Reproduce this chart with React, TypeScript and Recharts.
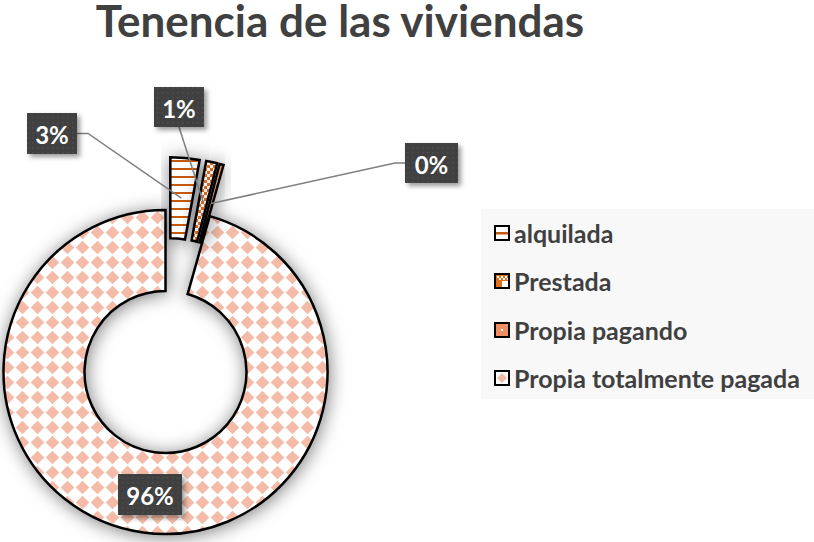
import React from 'react';
import { PieChart, Pie, Cell, Legend } from 'recharts';

// ---------- data ----------
const categories = ['alquilada', 'Prestada', 'Propia pagando', 'Propia totalmente pagada'];
const shares = [2.9, 1.1, 0.4, 95.6];
const chartTitle = 'Tenencia de las viviendas';

const data = categories.map((name, i) => ({ name, value: shares[i] }));

// ---------- layout / style ----------
const W = 814;
const H = 542;
const CX = 165.5;
const CY = 372;
const R_OUT = 162;
const R_IN = 81;
const EXPLODE = [53, 53, 53, 0];
const FILLS = ['url(#pAlq)', 'url(#pPre)', 'url(#pPag)', 'url(#pTot)'];
const FONT = 'Lato, "Open Sans", sans-serif';
const TEXT = '#404040';

type Box = { x: number; y: number; w: number; h: number; anchor: 'right' | 'bottom' | 'left' | null; elbow: number };
const LABEL_BOXES: Box[] = [
  { x: 27, y: 113, w: 50, h: 41, anchor: 'right', elbow: 11 },
  { x: 154, y: 87, w: 50, h: 40, anchor: 'bottom', elbow: 0 },
  { x: 405, y: 143, w: 53, h: 40, anchor: 'left', elbow: 10 },
  { x: 118, y: 474, w: 64, h: 41, anchor: null, elbow: 0 },
];

const total = shares.reduce((a, b) => a + b, 0);
const offsets = shares.map((v, i) => {
  const cum = shares.slice(0, i).reduce((a, b) => a + b, 0);
  const mid = 90 - ((cum + v / 2) / total) * 360;
  const rad = (mid * Math.PI) / 180;
  return { dx: EXPLODE[i] * Math.cos(rad), dy: -EXPLODE[i] * Math.sin(rad) };
});

const RADIAN = Math.PI / 180;

const makeLabel = (k: number) => (props: any) => {
  const { cx, cy, midAngle, innerRadius, outerRadius, percent, index } = props;
  if (index !== k) return null;
  const b = LABEL_BOXES[k];
  const r = (innerRadius + outerRadius) / 2;
  const tx = cx + r * Math.cos(-midAngle * RADIAN);
  const ty = cy + r * Math.sin(-midAngle * RADIAN);
  let pts: number[][] = [];
  if (b.anchor === 'right') {
    pts = [[b.x + b.w, b.y + b.h / 2], [b.x + b.w + b.elbow, b.y + b.h / 2], [tx, ty]];
  } else if (b.anchor === 'left') {
    pts = [[b.x, b.y + b.h / 2], [b.x - b.elbow, b.y + b.h / 2], [tx, ty]];
  } else if (b.anchor === 'bottom') {
    pts = [[b.x + b.w / 2, b.y + b.h], [tx, ty]];
  }
  return (
    <g key={`lbl-${k}`}>
      {pts.length > 0 && (
        <polyline points={pts.map((p) => p.join(',')).join(' ')} fill="none" stroke="#7f7f7f" strokeWidth={1.5} />
      )}
      <rect x={b.x} y={b.y} width={b.w} height={b.h} fill="url(#pDark)" filter="url(#boxShadow)" />
      <text
        x={b.x + b.w / 2}
        y={b.y + b.h / 2 + 1}
        textAnchor="middle"
        dominantBaseline="central"
        fill="#ffffff"
        fontFamily={FONT}
        fontWeight={700}
        fontSize={24}
      >
        {`${Math.round(percent * 100)}%`}
      </text>
    </g>
  );
};

const LegendIcon = ({ i }: { i: number }) => {
  return (
    <svg width={16} height={16} style={{ display: 'block' }}>
      <rect x={1} y={1} width={14} height={14} fill="#fff" />
      {i === 0 && <rect x={1} y={7} width={14} height={2.5} fill="#C55A11" />}
      {i === 1 && (
        <g shapeRendering="crispEdges">
          <rect x={1} y={1} width={14} height={14} fill="#E07020" />
          <rect x={8} y={8} width={7} height={7} fill="#fff" />
          <rect x={3} y={3} width={2} height={2} fill="#fff" />
          <rect x={7} y={3} width={2} height={2} fill="#fff" />
          <rect x={11} y={3} width={2} height={2} fill="#fff" />
          <rect x={5} y={5} width={2} height={2} fill="#fff" />
          <rect x={9} y={5} width={2} height={2} fill="#fff" />
          <rect x={13} y={5} width={2} height={2} fill="#fff" />
        </g>
      )}
      {i === 2 && (
        <g>
          <rect x={1} y={1} width={14} height={14} fill="#EE8F63" />
          <rect x={7} y={7} width={2} height={2} fill="#fff" />
        </g>
      )}
      {i === 3 && <polygon points="8,3 13,8 8,13 3,8" fill="#F4BCA8" />}
      <rect x={1} y={1} width={14} height={14} fill="none" stroke="#000" strokeWidth={2} />
    </svg>
  );
};

const renderLegend = () => {
  return (
    <div style={{ width: 333, height: 190, background: '#f8f8f8', boxSizing: 'border-box' }}>
      {categories.map((name, i) => (
        <div
          key={`leg-${i}`}
          style={{ display: 'flex', alignItems: 'center', height: 48.3, paddingLeft: 13, marginTop: i === 0 ? -1 : 0 }}
        >
          <LegendIcon i={i} />
          <span
            style={{
              marginLeft: 4,
              fontFamily: FONT,
              fontWeight: 700,
              fontSize: 25,
              color: TEXT,
              whiteSpace: 'nowrap',
              lineHeight: '30px',
            }}
          >
            {name}
          </span>
        </div>
      ))}
    </div>
  );
};

const Defs = () => (
  <svg width={0} height={0} style={{ position: 'absolute' }}>
    <defs>
      <pattern id="pAlq" width={8} height={8} patternUnits="userSpaceOnUse">
        <rect width={8} height={8} fill="#fff" />
        <rect y={0} width={8} height={2} fill="#C55A11" shapeRendering="crispEdges" />
      </pattern>
      <pattern id="pPre" width={6} height={6} patternUnits="userSpaceOnUse">
        <rect width={6} height={6} fill="#fff" />
        <g shapeRendering="crispEdges" fill="#E07020">
          <rect x={0} y={0} width={3} height={3} />
          <rect x={3} y={3} width={3} height={3} />
        </g>
      </pattern>
      <pattern id="pPag" width={4} height={4} patternUnits="userSpaceOnUse">
        <rect width={4} height={4} fill="#EE8F63" />
        <rect x={1} y={1} width={1} height={1} fill="#fff" />
      </pattern>
      <pattern id="pTot" width={15} height={15} patternUnits="userSpaceOnUse">
        <rect width={15} height={15} fill="#fff" />
        <polygon points="7.5,0.7 14.3,7.5 7.5,14.3 0.7,7.5" fill="#F4BCA8" />
      </pattern>
      <pattern id="pDark" width={5} height={5} patternUnits="userSpaceOnUse">
        <rect width={5} height={5} fill="#404040" />
        <rect x={2} y={2} width={1.5} height={1.5} fill="#4e4e4e" />
      </pattern>
      <filter id="pieShadow" x="-30%" y="-30%" width="160%" height="160%">
        <feDropShadow dx={1} dy={2} stdDeviation={9} floodColor="#000" floodOpacity={0.5} />
      </filter>
      <filter id="boxShadow" x="-30%" y="-30%" width="160%" height="160%">
        <feDropShadow dx={3} dy={3} stdDeviation={2.5} floodColor="#000" floodOpacity={0.4} />
      </filter>
    </defs>
  </svg>
);

const order = [3, 0, 1, 2];

export default function App() {
  return (
    <div style={{ position: 'absolute', left: 0, top: 0, width: W, height: H, background: '#fff', overflow: 'hidden' }}>
      <Defs />
      <svg width={W} height={60} style={{ position: 'absolute', left: 0, top: 0, zIndex: 2 }}>
        <text
          x={340}
          y={37}
          textAnchor="middle"
          fontFamily={FONT}
          fontWeight={700}
          fontSize={44}
          fill={TEXT}
        >
          {chartTitle}
        </text>
      </svg>
      <PieChart width={W} height={H} margin={{ top: 0, right: 0, bottom: 0, left: 0 }}>
        {order.map((k) => (
          <Pie
            key={`pie-${k}`}
            data={data}
            dataKey="value"
            nameKey="name"
            cx={CX + offsets[k].dx}
            cy={CY + offsets[k].dy}
            innerRadius={R_IN}
            outerRadius={R_OUT}
            startAngle={90}
            endAngle={-270}
            isAnimationActive={false}
            legendType={k === 3 ? 'square' : 'none'}
            label={makeLabel(k)}
            labelLine={false}
          >
            {data.map((d, i) => (
              <Cell
                key={`c-${k}-${i}`}
                fill={i === k ? FILLS[i] : 'none'}
                stroke={i === k ? '#000' : 'none'}
                strokeWidth={2.5}
                filter={i === k ? 'url(#pieShadow)' : undefined}
              />
            ))}
          </Pie>
        ))}
        <Legend
          layout="vertical"
          align="right"
          verticalAlign="middle"
          content={renderLegend}
          wrapperStyle={{ position: 'absolute', left: 481, top: 210, width: 333, height: 190 }}
        />
      </PieChart>
    </div>
  );
}
